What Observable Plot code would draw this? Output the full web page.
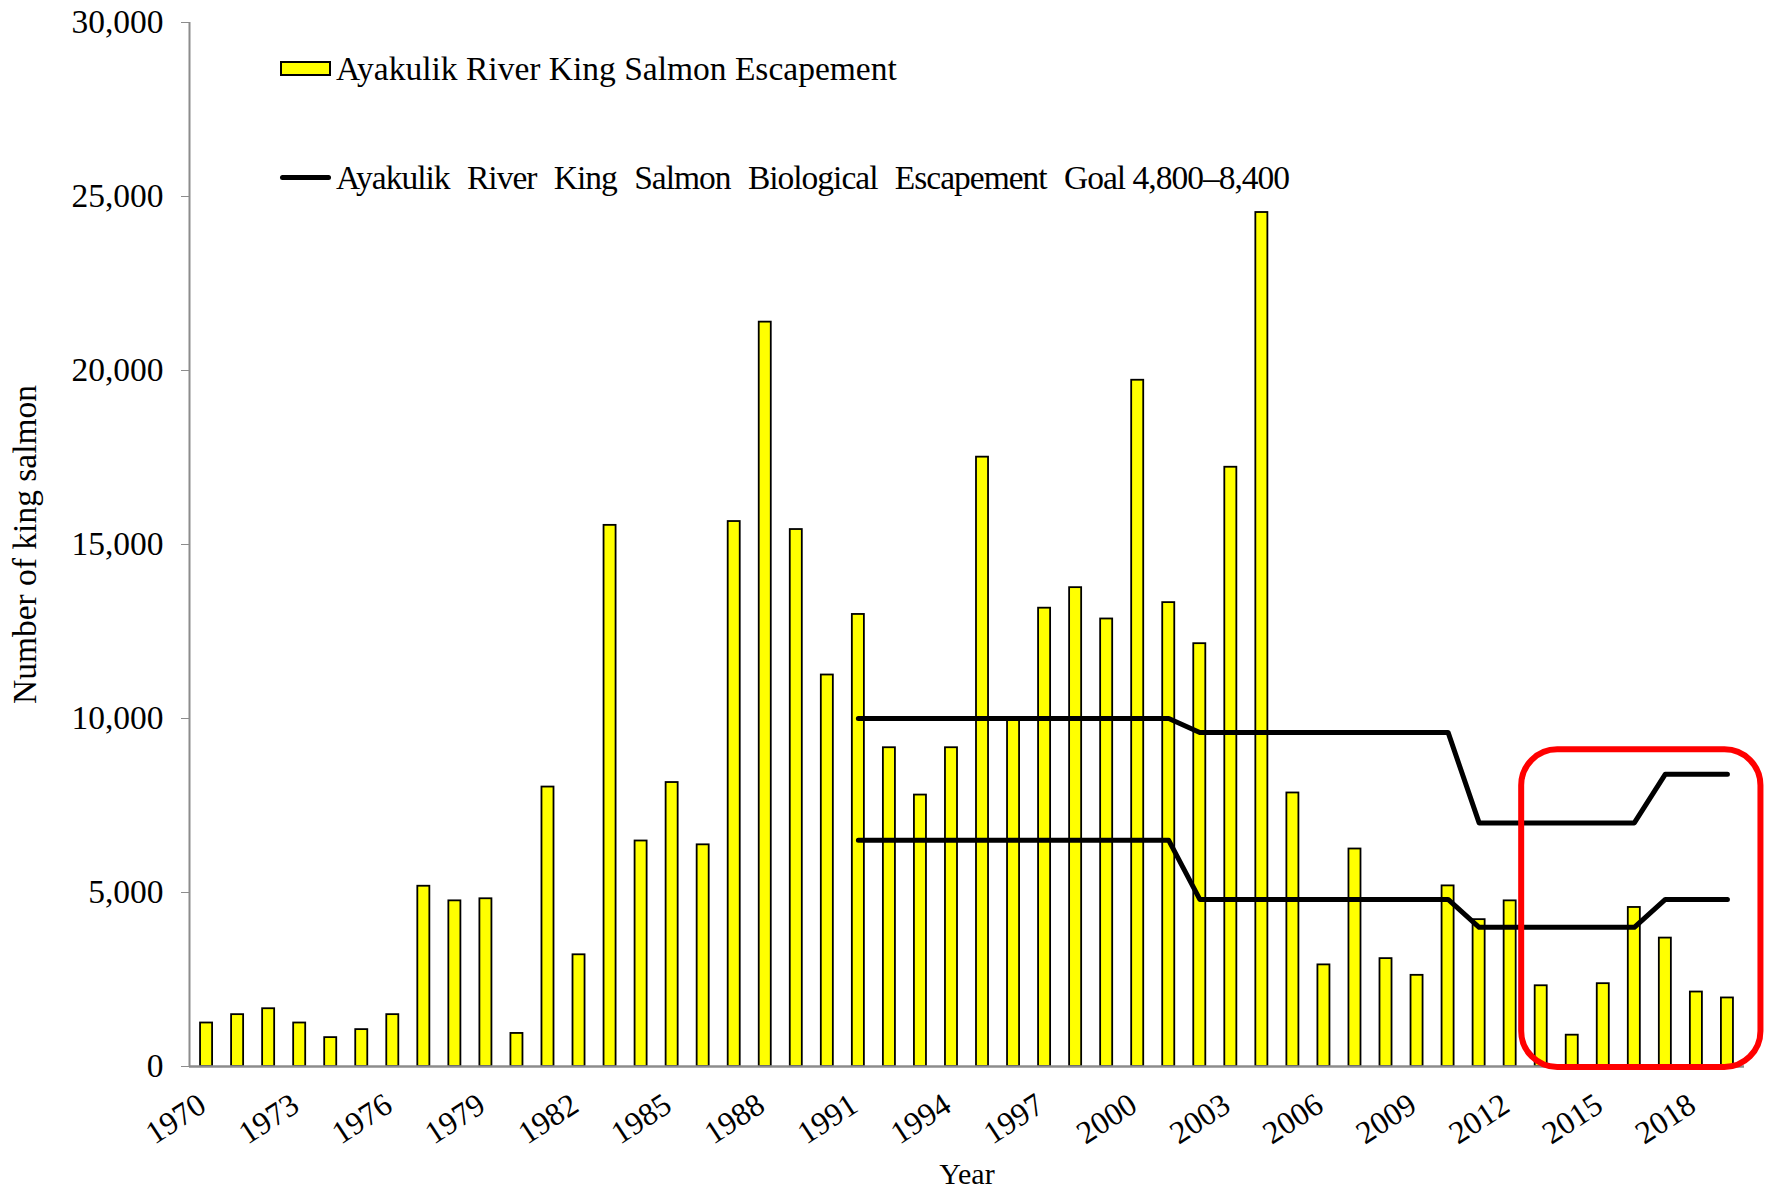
<!DOCTYPE html>
<html>
<head>
<meta charset="utf-8">
<script src="https://cdn.jsdelivr.net/npm/d3@7"></script>
<script src="https://cdn.jsdelivr.net/npm/@observablehq/plot@0.6"></script>
<style>
  html, body { margin: 0; padding: 0; background: #fff; }
  #wrap { position: relative; width: 1773px; height: 1189px; font-family: "Liberation Serif", "Times New Roman", serif; }
  .legend { position: absolute; left: 280px; font-size: 33.5px; line-height: 1; color: #000; display: flex; align-items: center; white-space: pre; }
  .sw-bar { width: 51px; height: 15px; background: #ffff00; border: 2px solid #000; box-sizing: border-box; margin-right: 5px; }
  .sw-line { width: 51px; height: 5px; background: #000; border-radius: 3px; margin-right: 5px; }
  .goal-text { letter-spacing: -1px; word-spacing: 10px; }
  .goal-text .tight { word-spacing: 0; }
</style>
</head>
<body>
<div id="wrap"></div>
<script>
// ---- data ----
const years = [1970,1971,1972,1973,1974,1975,1976,1977,1978,1979,
               1980,1981,1982,1983,1984,1985,1986,1987,1988,1989,
               1990,1991,1992,1993,1994,1995,1996,1997,1998,1999,
               2000,2001,2002,2003,2004,2005,2006,2007,2008,2009,
               2010,2011,2012,2013,2014,2015,2016,2017,2018,2019];
const escapement = [1250,1490,1660,1250,830,1060,1490,5180,4760,4820,
                    950,8030,3210,15550,6480,8160,6370,15660,21390,15430,
                    11250,12990,9160,7800,9160,17510,9950,13170,13760,12860,
                    19720,13330,12150,17220,24540,7860,2920,6250,3100,2620,
                    5190,4220,4760,2320,900,2380,4570,3690,2140,1970];
const goalYears = [1991,1992,1993,1994,1995,1996,1997,1998,1999,2000,
                   2001,2002,2003,2004,2005,2006,2007,2008,2009,2010,
                   2011,2012,2013,2014,2015,2016,2017,2018,2019];
const goalLower = [6500,6500,6500,6500,6500,6500,6500,6500,6500,6500,
                   6500,4800,4800,4800,4800,4800,4800,4800,4800,4800,
                   4000,4000,4000,4000,4000,4000,4800,4800,4800];
const goalUpper = [10000,10000,10000,10000,10000,10000,10000,10000,10000,10000,
                   10000,9600,9600,9600,9600,9600,9600,9600,9600,9600,
                   7000,7000,7000,7000,7000,7000,8400,8400,8400];
const yTicks = [0,5000,10000,15000,20000,25000,30000];
const xTicks = [1970,1973,1976,1979,1982,1985,1988,1991,1994,1997,2000,2003,2006,2009,2012,2015,2018];
const highlightFrom = 2013, highlightTo = 2019, highlightTop = 9100;
const legendBarLabel = "Ayakulik River King Salmon Escapement";
const legendGoalLabel = ["Ayakulik River King Salmon Biological Escapement ", "Goal 4,800\u20138,400"];

// ---- build ----
const bars = years.map((year, i) => ({year, value: escapement[i]}));
const goals = goalYears.map((year, i) => ({year, lower: goalLower[i], upper: goalUpper[i]}));
const xDomain = [1969.45, 2019.55];

const chart = Plot.plot({
  width: 1773,
  height: 1189,
  marginLeft: 189,
  marginRight: 29,
  marginTop: 22,
  marginBottom: 123,
  style: {fontFamily: "'Liberation Serif', 'Times New Roman', serif", fontSize: "33.5px", color: "#000", background: "#fff", overflow: "visible"},
  x: {domain: xDomain, axis: null},
  y: {domain: [0, 30000], axis: null},
  marks: [
    Plot.rect(bars, {x1: d => d.year - 0.5, x2: d => d.year + 0.5, y1: d => 0, y2: "value",
      fill: "#ffff00", stroke: "#000", strokeWidth: 1.8, insetLeft: 9.5, insetRight: 9.5}),
    Plot.ruleY([0], {stroke: "#8c8c8c", strokeWidth: 2.5}),
    Plot.ruleX([xDomain[0]], {stroke: "#8c8c8c", strokeWidth: 2}),
    Plot.axisY({ticks: yTicks, tickSize: 8, tickPadding: 18, tickFormat: d3.format(","), stroke: "#8c8c8c", fill: "#000", label: null}),
    // x tick labels (rotated), placed through the x scale
    Plot.text(xTicks, {x: d => d, y: d => 0, text: d => String(d), rotate: -33,
      textAnchor: "end", lineAnchor: "middle", dx: -4, dy: 35, fontSize: 32, fill: "#000"}),
    Plot.line(goals, {x: "year", y: "upper", stroke: "#000", strokeWidth: 5, strokeLinecap: "round", strokeLinejoin: "round"}),
    Plot.line(goals, {x: "year", y: "lower", stroke: "#000", strokeWidth: 5, strokeLinecap: "round", strokeLinejoin: "round"}),
    Plot.rect([{from: highlightFrom, to: highlightTo, top: highlightTop}], {
      x1: d => d.from - 0.5, x2: d => d.to + 0.5, y1: d => 0, y2: "top",
      fill: "none", stroke: "#ff0000", strokeWidth: 6, rx: 36,
      insetLeft: -4, insetRight: -18, insetBottom: -1}),
    Plot.text(["Number of king salmon"], {frameAnchor: "left", textAnchor: "middle", dx: -164, rotate: -90, fill: "#000"}),
    Plot.text(["Year"], {frameAnchor: "bottom", textAnchor: "middle", lineAnchor: "middle", dy: 108, fill: "#000", fontSize: 30})
  ]
});

const wrap = document.getElementById("wrap");
wrap.appendChild(chart);

const l1 = document.createElement("div");
l1.className = "legend"; l1.style.top = "52px";
const s1 = document.createElement("span"); s1.className = "sw-bar";
const t1 = document.createElement("span"); t1.textContent = legendBarLabel;
l1.append(s1, t1);
wrap.appendChild(l1);

const l2 = document.createElement("div");
l2.className = "legend"; l2.style.top = "161px";
const s2 = document.createElement("span"); s2.className = "sw-line";
const t2 = document.createElement("span"); t2.className = "goal-text";
const t2a = document.createElement("span"); t2a.textContent = legendGoalLabel[0];
const t2b = document.createElement("span"); t2b.className = "tight"; t2b.textContent = legendGoalLabel[1];
t2.append(t2a, t2b);
l2.append(s2, t2);
wrap.appendChild(l2);
</script>
</body>
</html>
